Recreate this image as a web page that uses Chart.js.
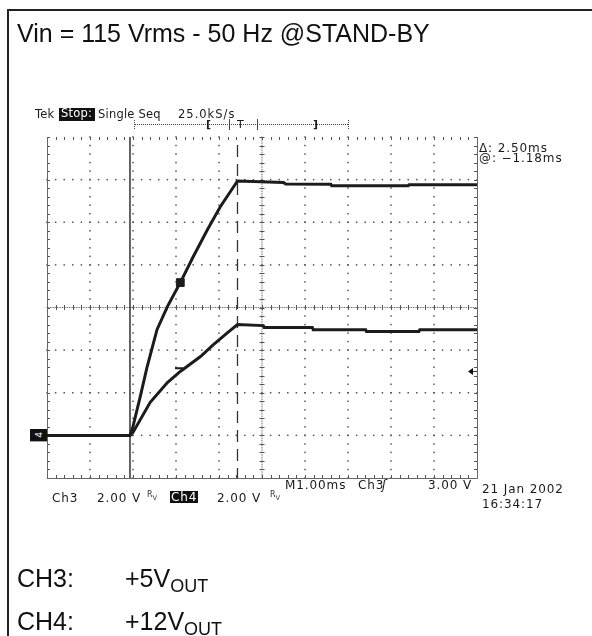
<!DOCTYPE html>
<html>
<head>
<meta charset="utf-8">
<script src="https://cdn.jsdelivr.net/npm/chart.js@4.4.1/dist/chart.umd.min.js"></script>
<style>
  body { margin: 0; background: #fff; }
  #page { position: relative; width: 592px; height: 636px; overflow: hidden; background: #fff; }
  #plot { position: absolute; left: 0; top: 0; }
  .t { position: absolute; white-space: nowrap; line-height: 1; }
  .big { font-family: "Liberation Sans", Arial, sans-serif; font-size: 25px; color: #111; }
  .sub { font-size: 18px; position: relative; top: 5px; }
  .scope { font-family: "DejaVu Sans", sans-serif; font-size: 12px; letter-spacing: 0.9px; color: #1a1a1a; }
  .small { font-size: 11.5px; letter-spacing: 0.2px; }
  .inv { background: #111; color: #fff; }
  .rv { font-family: "DejaVu Sans", sans-serif; font-size: 8px; color: #333; }
  #frameTop { position: absolute; left: 7px; top: 9px; width: 585px; height: 2px; background: #222; }
  #frameLeft { position: absolute; left: 7px; top: 9px; width: 2px; height: 627px; background: #222; }
  #bracket { position: absolute; left: 134px; top: 124px; width: 214px; border-top: 1px dotted #444; }
  .tick { position: absolute; width: 0; border-left: 1px solid #444; }
  #gnd { position: absolute; width: 17px; height: 12px; text-align: center; font-family: "DejaVu Sans", sans-serif; font-size: 9px; line-height: 12px; }
  #gnd span { display: inline-block; transform: rotate(-90deg); }
</style>
</head>
<body>
<div id="page">
  <canvas id="plot" width="592" height="636"></canvas>
  <div id="frameTop"></div>
  <div id="frameLeft"></div>

  <div class="t big" style="left:17px; top:21px;">Vin = 115 Vrms - 50 Hz @STAND-BY</div>

  <div class="t scope small" style="left:35px; top:109px;">Tek</div>
  <div class="t scope small inv" style="left:59px; top:108px; padding:0 3px 1px 2px;">Stop:</div>
  <div class="t scope small" style="left:98px; top:109px;">Single Seq</div>
  <div class="t scope small" style="left:178px; top:109px; letter-spacing:1px;">25.0kS/s</div>

  <div id="bracket"></div>
  <div class="tick" style="left:134px; top:120px; height:9px; border-left-style:dotted;"></div>
  <div class="tick" style="left:229px; top:119px; height:11px;"></div>
  <div class="tick" style="left:257px; top:119px; height:11px;"></div>
  <div class="tick" style="left:348px; top:120px; height:9px; border-left-style:dotted;"></div>
  <div class="t scope" style="left:206px; top:119px; font-weight:bold; font-size:11px;">[</div>
  <div class="t scope" style="left:237px; top:119px; font-size:11px;">T</div>
  <div class="t scope" style="left:313px; top:119px; font-weight:bold; font-size:11px;">]</div>

  <div class="t scope" style="left:479px; top:142px;">&Delta;: 2.50ms</div>
  <div class="t scope" style="left:479px; top:152px;">@: &minus;1.18ms</div>

  <div class="t scope" style="left:285px; top:479px;">M1.00ms</div>
  <div class="t scope" style="left:358px; top:479px;">Ch3</div>
  <div class="t scope" style="left:382px; top:479px; font-style:italic;">&#643;</div>
  <div class="t scope" style="left:428px; top:479px;">3.00 V</div>
  <div class="t scope" style="left:482px; top:483px;">21 Jan 2002</div>
  <div class="t scope" style="left:482px; top:498px;">16:34:17</div>

  <div class="t scope" style="left:52px; top:492px;">Ch3</div>
  <div class="t scope" style="left:97px; top:492px;">2.00 V</div>
  <div class="t rv" style="left:147px; top:491px;">R<sub>V</sub></div>
  <div class="t scope inv" style="left:170px; top:491px; padding:0 1px;">Ch4</div>
  <div class="t scope" style="left:217px; top:492px;">2.00 V</div>
  <div class="t rv" style="left:270px; top:491px;">R<sub>V</sub></div>

  <div class="t big" style="left:17px; top:566px;">CH3:</div>
  <div class="t big" style="left:125px; top:566px;">+5V<span class="sub">OUT</span></div>
  <div class="t big" style="left:17px; top:609px;">CH4:</div>
  <div class="t big" style="left:125px; top:609px;">+12V<span class="sub">OUT</span></div>

  <div id="gnd" class="inv"><span>4</span></div>
</div>

<script>
// tempo in ms (1 ms/div), tensione in V (2 V/div), massa a 0 V
const xMin = 0, xMax = 10;
const yMin = -2, yMax = 14;

// traccia superiore: +12V out
const time12 = [0, 1.93, 2.00, 2.17, 2.33, 2.56, 2.80, 3.10, 3.40, 3.73, 4.03, 4.43, 5.50, 5.55, 6.60, 6.62, 8.40, 8.42, 10];
const volt12 = [0, 0, 0.42, 1.83, 3.23, 4.97, 6.04, 7.17, 8.38, 9.65, 10.73, 11.94, 11.87, 11.80, 11.78, 11.71, 11.71, 11.76, 11.76];

// traccia inferiore: +5V out
const time5 = [0, 1.93, 2.00, 2.40, 2.80, 3.10, 3.57, 3.87, 4.20, 4.43, 5.03, 5.05, 6.17, 6.19, 7.41, 7.43, 8.65, 8.67, 10];
const volt5 = [0, 0, 0.14, 1.55, 2.48, 3.00, 3.70, 4.26, 4.82, 5.20, 5.15, 5.06, 5.06, 4.96, 4.96, 4.87, 4.87, 4.96, 4.96];

// cursori e trigger
const cursorA = 1.93;
const cursorB = 4.43;
const triggerLevel = 3.0;
const markTime = [3.10, 3.07];
const markVolt = [7.17, 3.15];

function toPoints(xs, ys) {
    return xs.map((x, i) => ({ x: x, y: ys[i] }));
}

const scopeGrid = {
    id: 'scopeGrid',
    beforeDatasetsDraw(chart) {
        const { ctx, chartArea: a, scales: { x, y } } = chart;
        const px = v => x.getPixelForValue(v);
        const py = v => y.getPixelForValue(v);
        const dot = (cx, cy) => ctx.fillRect(cx - 0.75, cy - 0.75, 1.5, 1.5);
        ctx.save();
        ctx.fillStyle = '#555';

        // linee principali tratteggiate (punti ogni 1/5 div)
        for (let d = 1; d < 10; d++) {
            if (d === 5) continue;
            for (let k = 0; k <= 40; k++) dot(px(d), py(yMin + k * 0.4));
        }
        for (let d = 1; d < 8; d++) {
            if (d === 4) continue;
            for (let k = 0; k <= 50; k++) dot(px(k * 0.2), py(yMin + d * 2));
        }

        // assi centrali con tacche
        ctx.fillStyle = '#666';
        for (let k = 0; k <= 250; k++) ctx.fillRect(px(k * 0.04) - 0.5, py(6) - 0.5, 1, 1);
        for (let k = 0; k <= 200; k++) ctx.fillRect(px(5) - 0.5, py(yMin + k * 0.08) - 0.5, 1, 1);
        ctx.strokeStyle = '#555';
        ctx.lineWidth = 1;
        ctx.beginPath();
        for (let k = 0; k <= 50; k++) {
            const cx = Math.round(px(k * 0.2)) + 0.5;
            ctx.moveTo(cx, py(6) - 2.5); ctx.lineTo(cx, py(6) + 2.5);
        }
        for (let k = 0; k <= 40; k++) {
            const cy = Math.round(py(yMin + k * 0.4)) + 0.5;
            ctx.moveTo(px(5) - 2.5, cy); ctx.lineTo(px(5) + 2.5, cy);
        }
        // tacche sul bordo
        for (let k = 0; k <= 50; k++) {
            const cx = Math.round(px(k * 0.2)) + 0.5;
            ctx.moveTo(cx, a.bottom); ctx.lineTo(cx, a.bottom - 3);
            ctx.moveTo(cx, a.top); ctx.lineTo(cx, a.top + 3);
        }
        for (let k = 0; k <= 40; k++) {
            const cy = Math.round(py(yMin + k * 0.4)) + 0.5;
            ctx.moveTo(a.left, cy); ctx.lineTo(a.left + 3, cy);
            ctx.moveTo(a.right, cy); ctx.lineTo(a.right - 3, cy);
        }
        ctx.stroke();

        // bordo
        ctx.strokeStyle = '#666';
        ctx.beginPath();
        ctx.moveTo(Math.round(a.left) + 0.5, a.top);
        ctx.lineTo(Math.round(a.left) + 0.5, Math.round(a.bottom) + 0.5);
        ctx.lineTo(Math.round(a.right) + 0.5, Math.round(a.bottom) + 0.5);
        ctx.lineTo(Math.round(a.right) + 0.5, a.top);
        ctx.stroke();

        // cursori
        ctx.strokeStyle = '#111';
        ctx.lineWidth = 1.3;
        ctx.beginPath();
        ctx.moveTo(px(cursorA), a.top); ctx.lineTo(px(cursorA), a.bottom);
        ctx.stroke();
        ctx.strokeStyle = '#333';
        ctx.setLineDash([12, 7]);
        ctx.beginPath();
        ctx.moveTo(px(cursorB), a.top + 8); ctx.lineTo(px(cursorB), a.bottom);
        ctx.stroke();
        ctx.setLineDash([]);

        // marcatore di massa
        ctx.fillStyle = '#111';
        ctx.fillRect(a.left - 17, py(0) - 6, 17, 12);

        // livello di trigger
        const ty = py(triggerLevel);
        ctx.beginPath();
        ctx.moveTo(a.right - 9, ty);
        ctx.lineTo(a.right - 4, ty - 3.5);
        ctx.lineTo(a.right - 4, ty + 3.5);
        ctx.closePath();
        ctx.fill();
        ctx.lineWidth = 1;
        ctx.beginPath();
        ctx.moveTo(a.right - 4, ty); ctx.lineTo(a.right, ty);
        ctx.stroke();
        ctx.restore();
    },
    afterDraw(chart) {
        const g = document.getElementById('gnd');
        g.style.left = (chart.chartArea.left - 17) + 'px';
        g.style.top = (chart.scales.y.getPixelForValue(0) - 6) + 'px';
    }
};

const scopeChart = new Chart(document.getElementById('plot').getContext('2d'), {
    type: 'scatter',
    data: {
        datasets: [
            {
                label: '+12V OUT',
                data: toPoints(time12, volt12),
                showLine: true,
                borderColor: '#1c1c1c',
                borderWidth: 3,
                pointRadius: 0,
                tension: 0
            },
            {
                label: '+5V OUT',
                data: toPoints(time5, volt5),
                showLine: true,
                borderColor: '#1c1c1c',
                borderWidth: 3,
                pointRadius: 0,
                tension: 0
            },
            {
                label: 'marks',
                data: toPoints(markTime, markVolt),
                showLine: false,
                pointStyle: ['rect', 'line'],
                pointRadius: [5.5, 4],
                pointBackgroundColor: '#1c1c1c',
                pointBorderColor: '#1c1c1c',
                pointBorderWidth: [1, 2]
            }
        ]
    },
    options: {
        responsive: false,
        animation: false,
        layout: { padding: { left: 47, top: 137, right: 115, bottom: 158 } },
        plugins: { legend: { display: false }, tooltip: { enabled: false } },
        scales: {
            x: { type: 'linear', min: xMin, max: xMax, display: false },
            y: { type: 'linear', min: yMin, max: yMax, display: false }
        }
    },
    plugins: [scopeGrid]
});
</script>
</body>
</html>
